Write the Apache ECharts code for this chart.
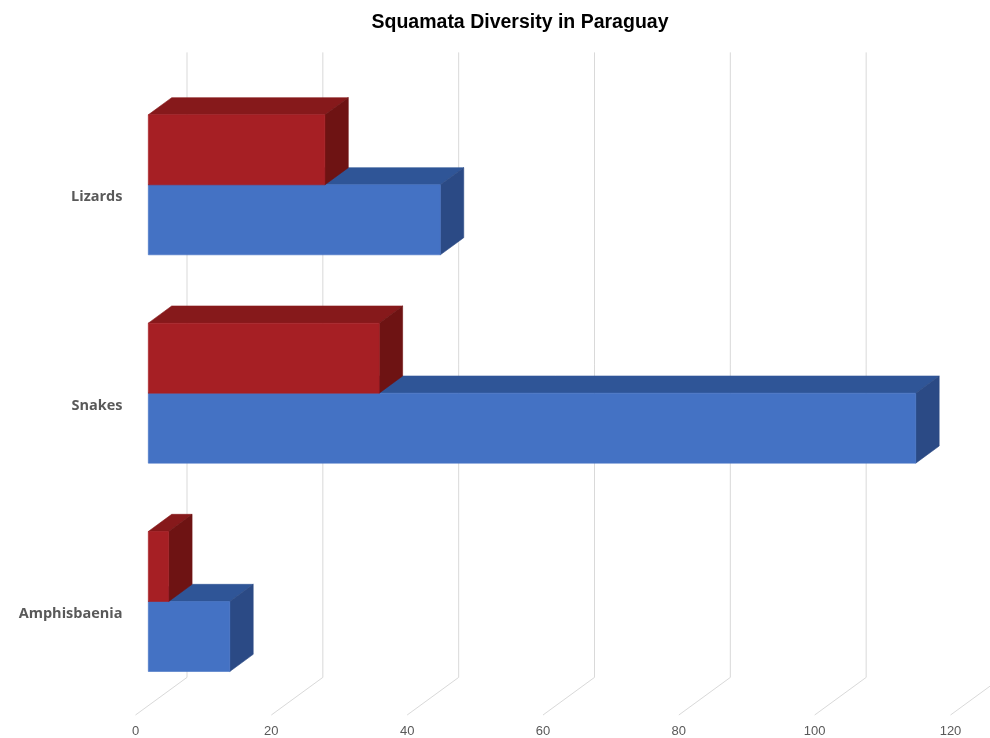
<!DOCTYPE html>
<html>
<head>
<meta charset="utf-8">
<script src="https://cdn.jsdelivr.net/npm/echarts@6/dist/echarts.min.js"></script>
<style>
html,body{margin:0;padding:0;background:#fff;}
#chart{width:990px;height:738px;}
</style>
</head>
<body>
<div id="chart"></div>
<script>
const categories = ['Lizards', 'Snakes', 'Amphisbaenia'];
const blueValues = [43, 113, 12];
const redValues = [26, 34, 3];
const tickValues = [0, 20, 40, 60, 80, 100, 120];

// oblique 3D offsets (pixels) relative to the floor-front plane
const FRONT = [12.8, -9.35];
const DEPTH = [23.4, -17.15];
const WALL = [51.5, -37.6];
const BAR_RATIO = 70 / 208.33;

const chart = echarts.init(document.getElementById('chart'));

function face(type, shape, color) {
  return { type: type, shape: shape, style: { fill: color, stroke: color, lineWidth: 0.6 } };
}

function makeBarRenderer(upper, colors) {
  return function (params, api) {
    const v = api.value(0), c = api.value(1);
    const p0 = api.coord([0, c]);
    const p1 = api.coord([v, c]);
    const h = api.size([0, 1])[1] * BAR_RATIO;
    const x0 = p0[0] + FRONT[0], x1 = p1[0] + FRONT[0];
    const yc = p0[1] + FRONT[1];
    const yT = upper ? yc - h : yc;
    const yB = upper ? yc : yc + h;
    const dx = DEPTH[0], dy = DEPTH[1];
    return {
      type: 'group',
      children: [
        face('polygon', { points: [[x0, yT], [x0 + dx, yT + dy], [x1 + dx, yT + dy], [x1, yT]] }, colors.top),
        face('polygon', { points: [[x1, yT], [x1 + dx, yT + dy], [x1 + dx, yB + dy], [x1, yB]] }, colors.side),
        face('rect', { x: x0, y: yT, width: x1 - x0, height: yB - yT }, colors.front)
      ]
    };
  };
}

function gridRenderer(params, api) {
  const t = api.value(0);
  const cs = params.coordSys;
  const x = api.coord([t, 0])[0];
  const yFront = cs.y + cs.height;
  return {
    type: 'polyline',
    shape: { points: [[x + WALL[0], cs.y + WALL[1]], [x + WALL[0], yFront + WALL[1]], [x, yFront]] },
    style: { stroke: '#d9d9d9', lineWidth: 1, fill: null }
  };
}

const option = {
  animation: false,
  backgroundColor: '#ffffff',
  title: {
    text: 'Squamata Diversity in Paraguay',
    left: 515,
    top: 8,
    textAlign: 'center',
    textStyle: { fontFamily: 'Liberation Sans, Arial, sans-serif', fontSize: 19.5, fontWeight: 'bold', color: '#000000' }
  },
  grid: { left: 135.5, right: 39.5, top: 90, bottom: 23, containLabel: false },
  xAxis: {
    type: 'value', min: 0, max: 120, interval: 20,
    axisLine: { show: false }, axisTick: { show: false }, splitLine: { show: false },
    axisLabel: { color: '#595959', fontSize: 13, margin: 10, fontFamily: 'Liberation Sans Narrow, Arial Narrow, Liberation Sans, sans-serif' }
  },
  yAxis: {
    type: 'category', data: categories, inverse: true,
    axisLine: { show: false }, axisTick: { show: false }, splitLine: { show: false },
    axisLabel: {
      margin: 13,
      formatter: '{a|{value}}',
      rich: {
        a: { color: '#595959', fontSize: 14.5, fontWeight: 'bold', padding: [6, 0, 0, 0], fontFamily: 'Open Sans, Liberation Sans, sans-serif' }
      }
    }
  },
  series: [
    {
      type: 'custom', name: 'grid', silent: true, clip: false, z: 1,
      renderItem: gridRenderer,
      encode: { x: 0 },
      data: tickValues.map(t => [t, 0])
    },
    {
      type: 'custom', name: 'Blue', silent: true, clip: false, z: 2,
      renderItem: makeBarRenderer(false, { front: '#4472C4', top: '#2F5597', side: '#2B4A85' }),
      encode: { x: 0, y: 1 },
      data: blueValues.map((v, i) => [v, i])
    },
    {
      type: 'custom', name: 'Red', silent: true, clip: false, z: 3,
      renderItem: makeBarRenderer(true, { front: '#A61F24', top: '#86191B', side: '#6E1313' }),
      encode: { x: 0, y: 1 },
      data: redValues.map((v, i) => [v, i])
    }
  ]
};
chart.setOption(option);
</script>
</body>
</html>
